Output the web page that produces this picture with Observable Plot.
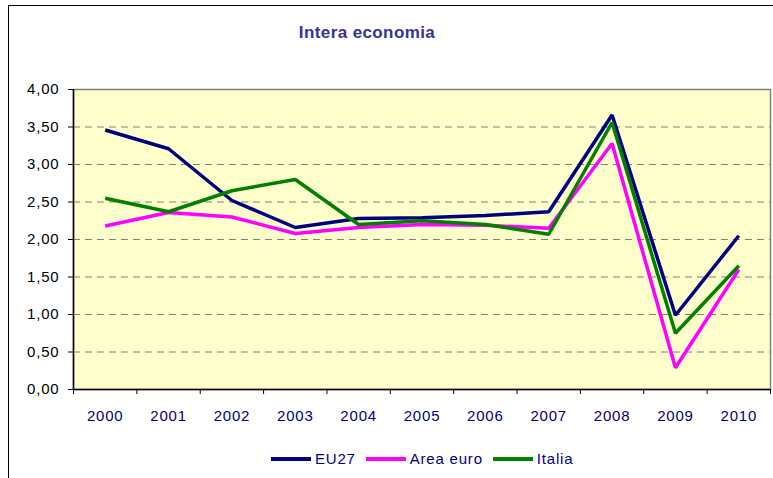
<!DOCTYPE html>
<html>
<head>
<meta charset="utf-8">
<script src="https://cdn.jsdelivr.net/npm/d3@7"></script>
<script src="https://cdn.jsdelivr.net/npm/@observablehq/plot@0.6"></script>
<style>
  html, body { margin: 0; padding: 0; background: #fff; }
  body { width: 773px; height: 478px; overflow: hidden; position: relative; font-family: "Liberation Sans", Arial, sans-serif; }
  #frame { position: absolute; left: 8px; top: 5px; width: 900px; height: 600px; border-left: 1px solid #000; border-top: 1px solid #000; pointer-events: none; }
  #title { height: 55px; box-sizing: border-box; padding-top: 24px; width: 734px; text-align: center; font-size: 17px; line-height: 17px; font-weight: bold; color: #333399; letter-spacing: 0.4px; }
  #chart svg { display: block; }
  #chart svg text { letter-spacing: 0.8px; }
  #legend { height: 43px; box-sizing: border-box; padding-top: 4px; padding-left: 271px; display: flex; align-items: center; font-size: 15px; color: #000080; letter-spacing: 0.8px; }
  .item { display: flex; align-items: center; margin-right: 10px; }
  .sw { width: 40px; height: 4px; margin-right: 4px; }
</style>
</head>
<body>
<div id="frame"></div>
<div id="title">Intera economia</div>
<div id="chart"></div>
<div id="legend"></div>
<script>
const years = [2000, 2001, 2002, 2003, 2004, 2005, 2006, 2007, 2008, 2009, 2010];
const eu27 = [3.46, 3.21, 2.52, 2.16, 2.28, 2.29, 2.32, 2.37, 3.66, 0.99, 2.05];
const areaEuro = [2.18, 2.36, 2.30, 2.08, 2.16, 2.20, 2.19, 2.15, 3.28, 0.29, 1.60];
const italia = [2.55, 2.37, 2.65, 2.80, 2.20, 2.25, 2.20, 2.07, 3.56, 0.75, 1.65];
const seriesNames = ["EU27", "Area euro", "Italia"];
const seriesColors = ["#000080", "#FF00FF", "#008000"];
const yTicks = [0, 0.5, 1, 1.5, 2, 2.5, 3, 3.5, 4];
const gridTicks = [0.5, 1, 1.5, 2, 2.5, 3, 3.5];

const seriesValues = [eu27, areaEuro, italia];
const data = [];
seriesNames.forEach((name, s) => {
  years.forEach((yr, i) => data.push({series: name, year: yr, value: seriesValues[s][i]}));
});

const xDomain = [years[0] - 0.5, years[years.length - 1] + 0.5];
const boundaries = years.map(y => y - 0.5).concat([years[years.length - 1] + 0.5]);
const fmt = d => d.toFixed(2).replace(".", ",");

const chart = Plot.plot({
  width: 773,
  height: 380,
  marginTop: 34,
  marginBottom: 46,
  marginLeft: 73,
  marginRight: 3,
  style: {background: "transparent", fontFamily: "Liberation Sans, Arial, sans-serif", fontSize: "15px", color: "black", overflow: "visible"},
  x: {type: "linear", domain: xDomain},
  y: {domain: [0, 4]},
  color: {domain: seriesNames, range: seriesColors},
  marks: [
    Plot.frame({fill: "#FFFFCC", stroke: "#808080", strokeWidth: 1.5}),
    Plot.ruleY(gridTicks, {stroke: "#808080", strokeDasharray: "7,5", strokeWidth: 1}),
    Plot.ruleX([xDomain[0]], {stroke: "black", strokeWidth: 1.5}),
    Plot.ruleY([0], {stroke: "black", strokeWidth: 1.5}),
    Plot.axisY({ticks: yTicks, tickSize: 5, tickPadding: 9, tickFormat: fmt, label: null, color: "black"}),
    Plot.axisX({ticks: boundaries, tickSize: 5, tickFormat: () => "", label: null, color: "black"}),
    Plot.axisX({ticks: years, tickSize: 0, tickPadding: 21, tickFormat: d => String(d), label: null, color: "#000080"}),
    Plot.line(data, {x: "year", y: "value", z: "series", stroke: "series", strokeWidth: 3.5, strokeLinejoin: "miter", strokeLinecap: "butt"})
  ]
});
document.getElementById("chart").appendChild(chart);

const legend = document.getElementById("legend");
seriesNames.forEach((name, i) => {
  const item = document.createElement("div");
  item.className = "item";
  const sw = document.createElement("div");
  sw.className = "sw";
  sw.style.background = seriesColors[i];
  const t = document.createElement("span");
  t.textContent = name;
  item.appendChild(sw);
  item.appendChild(t);
  legend.appendChild(item);
});
</script>
</body>
</html>
